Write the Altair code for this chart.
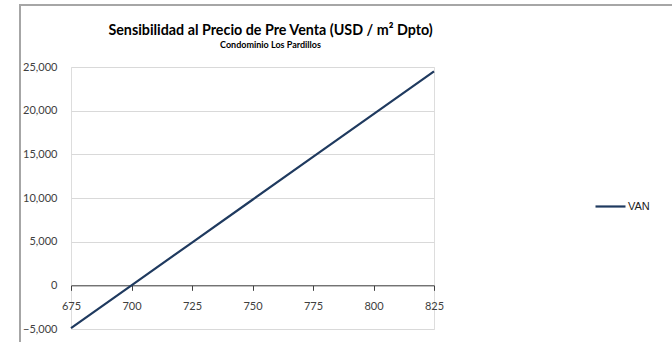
import altair as alt
import pandas as pd

precio = [675, 700, 725, 750, 775, 800, 825]
van = [-4900, 0, 4900, 9800, 14700, 19600, 24500]
serie = ["VAN"] * len(precio)
y_ticks = [-5000, 0, 5000, 10000, 15000, 20000, 25000]
x_ticks = [675, 700, 725, 750, 775, 800, 825]

df = pd.DataFrame({"precio": precio, "van": van, "serie": serie})

W, H = 363, 262
FONT = "Lato"
TXT = "#404040"

line = alt.Chart(df).mark_line(strokeWidth=2.2, color="#1F3A5F").encode(
    x=alt.X("precio:Q", scale=alt.Scale(domain=[675, 825], nice=False, zero=False),
            axis=alt.Axis(values=x_ticks, title=None, grid=False, offset=-H * 5000 / 30000,
                          domainColor="#404040", tickColor="#404040", tickSize=5,
                          labelColor=TXT, labelFont=FONT, labelFontSize=11, labelPadding=10,
                          labelFlush=False, format="d")),
    y=alt.Y("van:Q", scale=alt.Scale(domain=[-5000, 25000], nice=False),
            axis=alt.Axis(values=y_ticks, title=None, format=",.0f", domain=False, ticks=False,
                          gridColor="#d9d9d9", labelColor=TXT, labelFont=FONT, labelFontSize=11,
                          labelPadding=14)),
    color=alt.Color("serie:N", scale=alt.Scale(range=["#1F3A5F"]),
                    legend=alt.Legend(title=None, orient="none", legendX=523, legendY=123,
                                      symbolType="stroke", symbolSize=900, symbolStrokeWidth=2.2,
                                      labelFont="Liberation Sans", labelFontSize=11, labelColor="#202020",
                                      labelOffset=1)),
)

frame_left = alt.Chart(df).mark_rule(color="#a6a6a6", strokeWidth=2).encode(
    x=alt.value(-51), y=alt.value(-62), y2=alt.value(280))
frame_top = alt.Chart(df).mark_rule(color="#a6a6a6", strokeWidth=2).encode(
    x=alt.value(-52), x2=alt.value(610), y=alt.value(-62))

chart = alt.layer(frame_left, frame_top, line).properties(
    width=W, height=H,
    autosize=alt.AutoSizeParams(type="none"),
    padding={"left": 71, "top": 67, "right": 238, "bottom": 13},
    title=alt.TitleParams(
        text="Sensibilidad al Precio de Pre Venta (USD / m² Dpto)",
        subtitle="Condominio Los Pardillos",
        font=FONT, fontSize=14.3, fontWeight="bold", color="#000000",
        subtitleFont=FONT, subtitleFontSize=9, subtitleFontWeight="bold", subtitleColor="#000000",
        subtitlePadding=3, anchor="middle", dx=18, offset=-46,
    ),
).configure_view(stroke=None).configure(background="white")

chart.save("out.html", embed_options={"renderer": "svg", "actions": False})
